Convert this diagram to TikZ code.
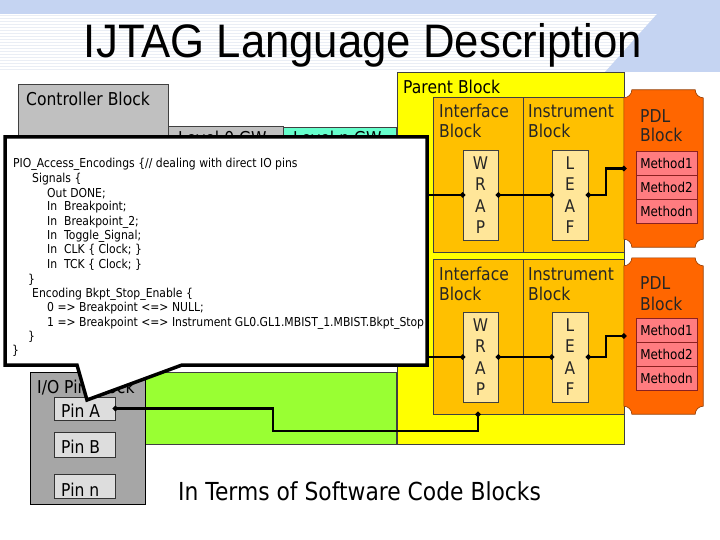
\documentclass[tikz,border=0pt]{standalone}
\usepackage{fontspec}
\setmainfont{DejaVu Sans}[FakeStretch=0.88]
\newfontfamily\titlefont{Liberation Sans}[FakeStretch=0.93]
\usetikzlibrary{arrows.meta,calc}
\newcommand\myfs[2]{\fontsize{#1}{#2}\selectfont}
\definecolor{bandblue}{HTML}{C5D4F2}
\definecolor{stripec}{HTML}{EAEEF5}
\definecolor{ctrlgray}{HTML}{C0C0C0}
\definecolor{gwcyan}{HTML}{66FFCC}
\definecolor{iogray}{HTML}{A6A6A6}
\definecolor{pingray}{HTML}{DDDDDD}
\definecolor{lgreen}{HTML}{99FF33}
\definecolor{pyellow}{HTML}{FFFF00}
\definecolor{porange}{HTML}{FFC000}
\definecolor{ptan}{HTML}{FFE699}
\definecolor{pdlc}{HTML}{FF6600}
\definecolor{pdlb}{HTML}{963C00}
\definecolor{methc}{HTML}{FF7C80}
\definecolor{methb}{HTML}{8B2020}
\begin{document}
\begin{tikzpicture}[x=1pt,y=-1pt,
  blk/.style={inner sep=0pt,line width=0.6pt,draw=black!75},
  lbl/.style={anchor=base west,inner sep=0pt,font=\myfs{17.7}{20}},
  codeln/.style={anchor=base west,inner sep=0pt,font=\myfs{12.3}{14}},
  conn/.style={line width=2.2pt,shorten <=-2.5pt,shorten >=-2.5pt},
  dotend/.style={-{Circle[length=5pt]}},
  dotboth/.style={{Circle[length=5pt]}-{Circle[length=5pt]}},
  letters/.style={align=center,font=\myfs{17.5}{21.3},text=black!85},
  meth/.style={blk,fill=methc,draw=methb,minimum width=61pt,minimum height=24pt,font=\myfs{13.6}{15}},
  stripe/.style={draw=stripec,line width=1pt}]
\useasboundingbox (0,0) rectangle (720,540);
\fill[white] (0,0) rectangle (720,540);
% header background
\foreach \yy in {16,19,...,70} \draw[stripe] (0,\yy) -- (660,\yy);
\fill[bandblue] (0,0) -- (720,0) -- (720,72) -- (605,72) -- (657,14) -- (0,14) -- cycle;
\node[font=\titlefont\myfs{47}{50},anchor=base,inner sep=0pt] (title) at (363,58) {IJTAG Language Description};
% controller and gateways
\node[blk,fill=ctrlgray,minimum width=150pt,minimum height=216pt] (ctrl) at (93,192) {};
\node[lbl] (ctrltxt) at (26,106) {Controller Block};
\node[blk,fill=ctrlgray,minimum width=115pt,minimum height=174pt] (gw0) at (225.5,213) {};
\node[lbl] (gw0txt) at (178,144.5) {Level 0 GW};
\node[blk,fill=gwcyan,minimum width=113pt,minimum height=173pt] (gwn) at (339.5,213.5) {};
\node[lbl] (gwntxt) at (293,144.5) {Level n GW};
% green
\node[blk,fill=lgreen,minimum width=251pt,minimum height=72pt] (green) at (270.5,408) {};
% parent
\node[blk,fill=pyellow,minimum width=227pt,minimum height=372pt] (parent) at (510.5,258) {};
\node[lbl] (parenttxt) at (403,94) {Parent Block};
\node[blk,fill=porange,minimum width=90pt,minimum height=155pt] (iface1) at (478,174.5) {};
\node[blk,fill=porange,minimum width=101pt,minimum height=155pt] (instr1) at (573.5,174.5) {};
\node[blk,fill=porange,minimum width=90pt,minimum height=155pt] (iface2) at (478,336.5) {};
\node[blk,fill=porange,minimum width=101pt,minimum height=155pt] (instr2) at (573.5,336.5) {};
\node[lbl,text=black!85] (if1a) at (439,118) {Interface};
\node[lbl,text=black!85] (if1b) at (439,138) {Block};
\node[lbl,text=black!85] (in1a) at (528,118) {Instrument};
\node[lbl,text=black!85] (in1b) at (528,138) {Block};
\node[lbl,text=black!85] (if2a) at (439,280) {Interface};
\node[lbl,text=black!85] (if2b) at (439,300) {Block};
\node[lbl,text=black!85] (in2a) at (528,280) {Instrument};
\node[lbl,text=black!85] (in2b) at (528,300) {Block};
\node[blk,fill=ptan,minimum width=35pt,minimum height=90pt] (wrap1) at (480.5,195) {};
\node[blk,fill=ptan,minimum width=36pt,minimum height=90pt] (leaf1) at (570,195) {};
\node[blk,fill=ptan,minimum width=35pt,minimum height=90pt] (wrap2) at (480.5,357) {};
\node[blk,fill=ptan,minimum width=36pt,minimum height=90pt] (leaf2) at (570,357) {};
\node[letters] (wrap1t) at (wrap1) {W\\R\\A\\P};
\node[letters] (leaf1t) at (leaf1) {L\\E\\A\\F};
\node[letters] (wrap2t) at (wrap2) {W\\R\\A\\P};
\node[letters] (leaf2t) at (leaf2) {L\\E\\A\\F};
% PDL blocks
\node[inner sep=0pt,minimum width=79pt,minimum height=157pt] (pdl1) at (663.5,168.5) {};
\node[inner sep=0pt,minimum width=79pt,minimum height=156pt] (pdl2) at (663.5,336) {};
\foreach \p in {pdl1,pdl2}{
  \filldraw[fill=pdlc,draw=pdlb,line width=0.6pt]
    ($(\p.north west)+(8,0)$) -- ($(\p.north east)+(-8,0)$) arc[start angle=180,end angle=90,radius=8]
    -- ($(\p.south east)+(0,-8)$) arc[start angle=270,end angle=180,radius=8]
    -- ($(\p.south west)+(8,0)$) arc[start angle=0,end angle=-90,radius=8]
    -- ($(\p.north west)+(0,8)$) arc[start angle=90,end angle=0,radius=8] -- cycle;
}
\node[lbl,text=black!85] (pdl1a) at (640,123) {PDL};
\node[lbl,text=black!85] (pdl1b) at (640,142) {Block};
\node[lbl,text=black!85] (pdl2a) at (640,289) {PDL};
\node[lbl,text=black!85] (pdl2b) at (640,310) {Block};
\node[meth] (m11) at (666.5,163) {Method1};
\node[meth] (m12) at (666.5,187) {Method2};
\node[meth] (m13) at (666.5,211) {Methodn};
\node[meth] (m21) at (666.5,330) {Method1};
\node[meth] (m22) at (666.5,354) {Method2};
\node[meth] (m23) at (666.5,378) {Methodn};
% I/O pin block
\node[blk,draw=black,fill=iogray,minimum width=115pt,minimum height=132pt] (iopin) at (87.5,438) {};
\node[lbl] (iotxt) at (37,393) {I/O Pin Block};
\node[blk,draw=black!80,fill=pingray,minimum width=61pt,minimum height=23pt] (pinA) at (84.5,408.5) {};
\node[blk,draw=black!80,fill=pingray,minimum width=61pt,minimum height=25pt] (pinB) at (84.5,444.5) {};
\node[blk,draw=black!80,fill=pingray,minimum width=61pt,minimum height=24pt] (pinN) at (84.5,486) {};
\node[lbl] (pinAt) at (61,417) {Pin A};
\node[lbl] (pinBt) at (61,453) {Pin B};
\node[lbl] (pinNt) at (61,496) {Pin n};
% connectors
\coordinate (gw1) at (410,195);
\coordinate (gw2) at (410,357);
\coordinate (pinbend) at (273,431);
\draw[conn,dotend] (gw1) -- (wrap1.west);
\draw[conn,dotboth] (wrap1.east) -- (leaf1.west);
\draw[conn,dotboth] (leaf1.east) -- ++(18,0) |- (pdl1.west);
\draw[conn,dotend] (gw2) -- (wrap2.west);
\draw[conn,dotboth] (wrap2.east) -- (leaf2.west);
\draw[conn,dotboth] (leaf2.east) -- ++(18,0) |- (pdl2.west);
\draw[conn,dotboth] (pinA.east) -| (pinbend) -| (iface2.south);
% callout
\filldraw[fill=white,draw=black,line width=3.5pt,line join=miter]
  (5,137) -- (427,137) -- (427,365) -- (182,365) -- (87,400) -- (77,365) -- (5,365) -- cycle;
\node[codeln] (c1) at (13,168) {PIO\_Access\_Encodings \{// dealing with direct IO pins};
\node[codeln] (c2) at (32,182.5) {Signals \{};
\node[codeln] (c3) at (47,197) {Out DONE;};
\node[codeln] (c4) at (47,211) {In\ \ Breakpoint;};
\node[codeln] (c5) at (47,225.5) {In\ \ Breakpoint\_2;};
\node[codeln] (c6) at (47,240) {In\ \ Toggle\_Signal;};
\node[codeln] (c7) at (47,254) {In\ \ CLK \{ Clock; \}};
\node[codeln] (c8) at (47,268.5) {In\ \ TCK \{ Clock; \}};
\node[codeln] (c9) at (28,283) {\}};
\node[codeln] (c10) at (32,297) {Encoding Bkpt\_Stop\_Enable \{};
\node[codeln] (c11) at (47,311.5) {0 => Breakpoint <=> NULL;};
\node[codeln] (c12) at (47,326) {1 => Breakpoint <=> Instrument GL0.GL1.MBIST\_1.MBIST.Bkpt\_Stop};
\node[codeln] (c13) at (28,340) {\}};
\node[codeln] (c14) at (12,354) {\}};
% caption
\node[anchor=base west,inner sep=0pt,font=\myfs{24.8}{28}] (caption) at (178,500) {In Terms of Software Code Blocks};
\end{tikzpicture}
\end{document}
